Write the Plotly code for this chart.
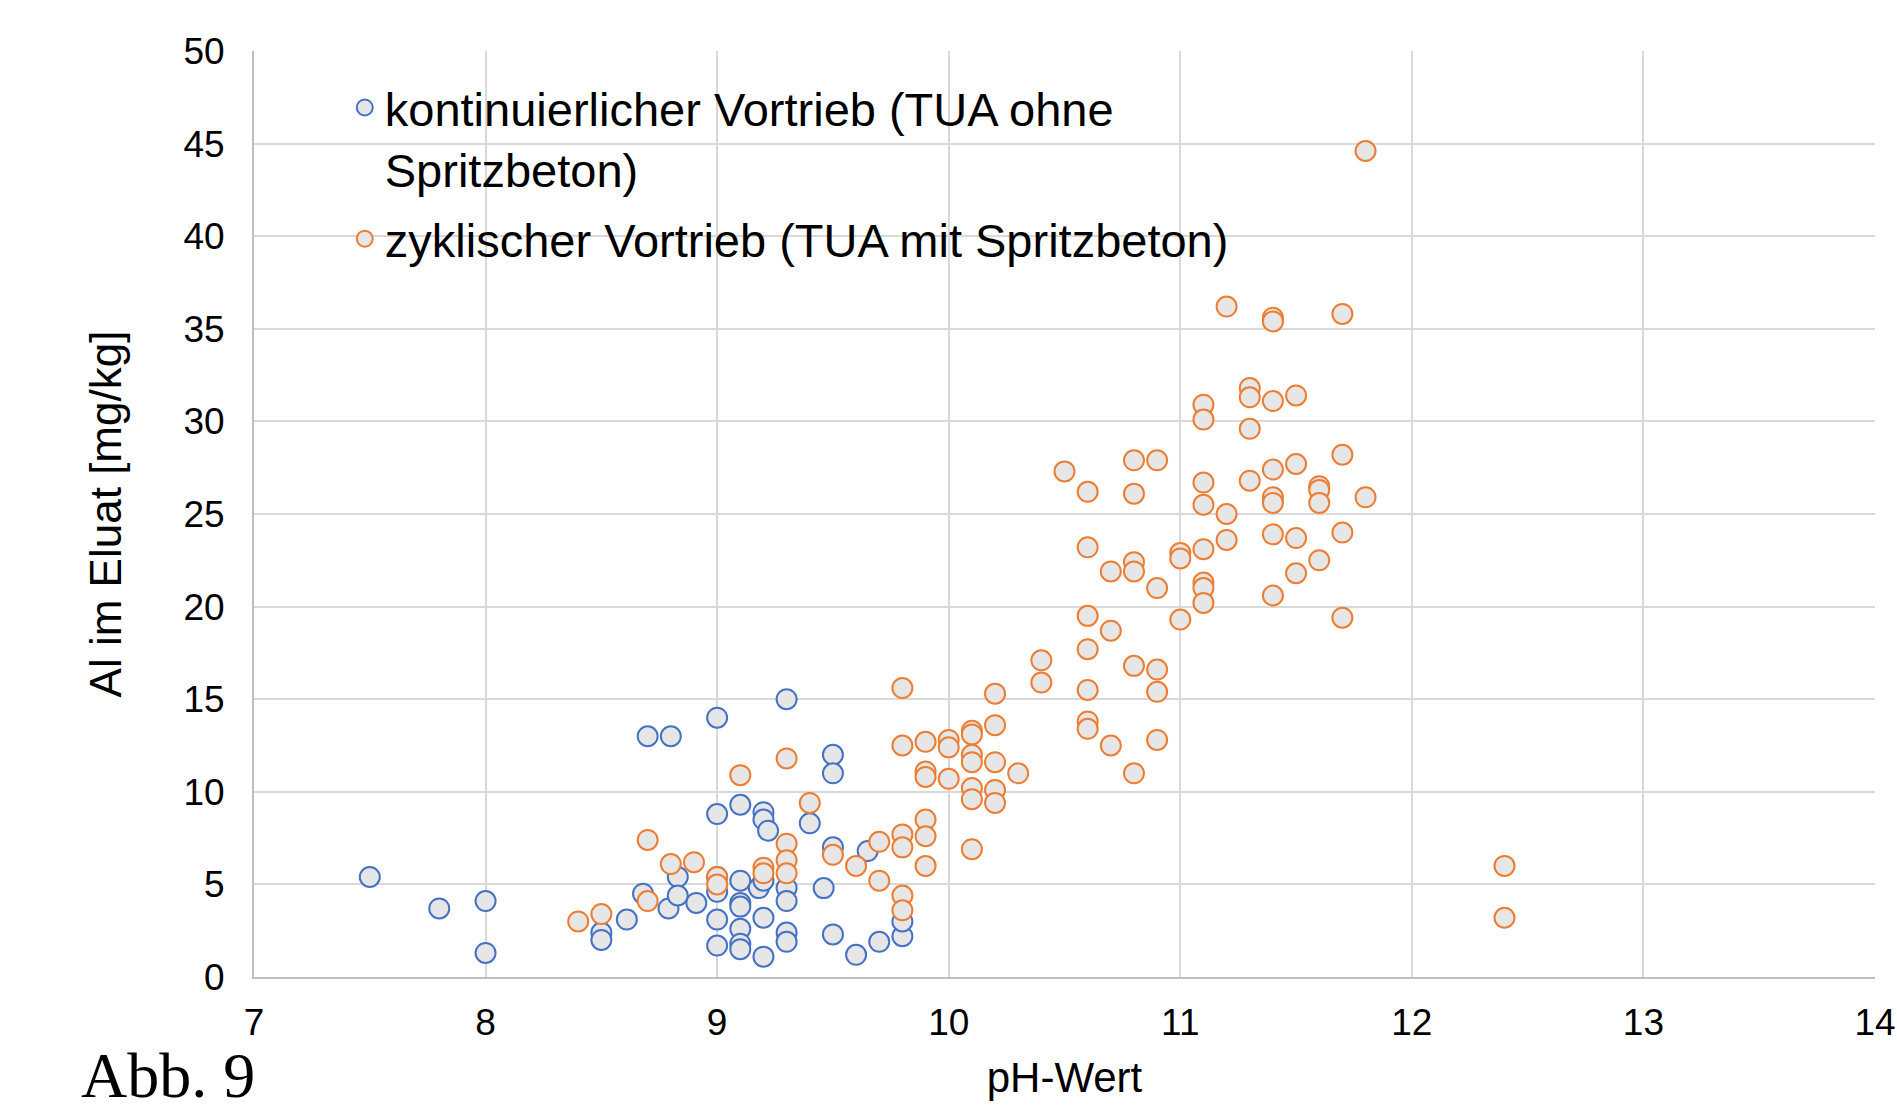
import plotly.graph_objects as go

# kontinuierlicher Vortrieb (TUA ohne Spritzbeton)
kont_ph = [7.5, 7.8, 8.0, 8.0, 8.5, 8.5, 8.61, 8.68, 8.7, 8.79, 8.8, 8.83, 8.83, 8.91,
           9.0, 9.0, 9.0, 9.0, 9.0, 9.0, 9.1, 9.1, 9.1, 9.1, 9.1, 9.1, 9.1, 9.18,
           9.2, 9.2, 9.2, 9.2, 9.2, 9.22, 9.3, 9.3, 9.3, 9.3, 9.3, 9.4, 9.46,
           9.5, 9.5, 9.5, 9.5, 9.6, 9.65, 9.7, 9.8, 9.8]
kont_al = [5.4, 3.7, 4.1, 1.3, 2.4, 2.0, 3.1, 4.5, 13.0, 3.7, 13.0, 5.4, 4.4, 4.0,
           14.0, 8.8, 5.4, 4.6, 3.1, 1.7, 9.3, 5.2, 4.0, 3.8, 2.6, 1.8, 1.5, 4.8,
           8.9, 8.5, 5.2, 3.2, 1.1, 7.9, 15.0, 4.8, 4.1, 2.4, 1.9, 8.3, 4.8,
           12.0, 11.0, 7.0, 2.3, 1.2, 6.8, 1.9, 2.2, 3.0]

# zyklischer Vortrieb (TUA mit Spritzbeton)
zykl_ph = [8.4, 8.5, 8.7, 8.7, 8.8, 8.9, 9.0, 9.0, 9.1, 9.2, 9.2, 9.3, 9.3, 9.3, 9.3,
           9.4, 9.5, 9.6, 9.7, 9.7, 9.8, 9.8, 9.8, 9.8, 9.8, 9.8,
           9.9, 9.9, 9.9, 9.9, 9.9, 9.9, 10.0, 10.0, 10.0,
           10.1, 10.1, 10.1, 10.1, 10.1, 10.1, 10.1, 10.2, 10.2, 10.2, 10.2, 10.2,
           10.3, 10.4, 10.4, 10.5, 10.6, 10.6, 10.6, 10.6, 10.6, 10.6, 10.6,
           10.7, 10.7, 10.7, 10.8, 10.8, 10.8, 10.8, 10.8, 10.8,
           10.9, 10.9, 10.9, 10.9, 10.9, 11.0, 11.0, 11.0,
           11.1, 11.1, 11.1, 11.1, 11.1, 11.1, 11.1, 11.1, 11.2, 11.2, 11.2,
           11.3, 11.3, 11.3, 11.3, 11.4, 11.4, 11.4, 11.4, 11.4, 11.4, 11.4, 11.4,
           11.5, 11.5, 11.5, 11.5, 11.6, 11.6, 11.6, 11.6,
           11.7, 11.7, 11.7, 11.7, 11.8, 11.8, 12.4, 12.4]
zykl_al = [3.0, 3.4, 7.4, 4.1, 6.1, 6.2, 5.4, 5.0, 10.9, 5.9, 5.6, 11.8, 7.2, 6.3, 5.6,
           9.4, 6.6, 6.0, 7.3, 5.2, 15.6, 12.5, 7.7, 7.0, 4.4, 3.6,
           12.7, 11.1, 10.8, 8.5, 7.6, 6.0, 12.8, 12.4, 10.7,
           13.3, 13.1, 12.0, 11.6, 10.2, 9.6, 6.9, 15.3, 13.6, 11.6, 10.1, 9.4,
           11.0, 17.1, 15.9, 27.3, 26.2, 23.2, 19.5, 17.7, 15.5, 13.8, 13.4,
           21.9, 18.7, 12.5, 27.9, 26.1, 22.4, 21.9, 16.8, 11.0,
           27.9, 21.0, 16.6, 15.4, 12.8, 22.9, 22.6, 19.3,
           30.9, 30.1, 26.7, 25.5, 23.1, 21.3, 21.0, 20.2, 36.2, 25.0, 23.6,
           31.8, 31.3, 29.6, 26.8, 35.6, 35.4, 31.1, 27.4, 25.9, 25.6, 23.9, 20.6,
           31.4, 27.7, 23.7, 21.8, 26.5, 26.3, 25.6, 22.5,
           35.8, 28.2, 24.0, 19.4, 44.6, 25.9, 6.0, 3.2]

FONT = "Liberation Sans, Arial, sans-serif"
FILL = "#E7E6E6"

fig = go.Figure()
fig.add_trace(
    go.Scatter(
        x=kont_ph,
        y=kont_al,
        mode="markers",
        name="kontinuierlicher Vortrieb (TUA ohne<br>Spritzbeton)",
        legendgroup="a",
        marker=dict(size=20, color=FILL, line=dict(color="#4472C4", width=2)),
    )
)
fig.add_trace(
    go.Scatter(
        x=zykl_ph,
        y=zykl_al,
        mode="markers",
        name="zyklischer Vortrieb (TUA mit Spritzbeton)",
        legendgroup="b",
        marker=dict(size=20, color=FILL, line=dict(color="#ED7D31", width=2)),
    )
)

axis_common = dict(
    automargin=False,
    showgrid=True,
    gridcolor="#D9D9D9",
    gridwidth=2,
    zeroline=False,
    showline=True,
    linecolor="#BFBFBF",
    linewidth=2,
    ticks="outside",
    tickcolor="rgba(0,0,0,0)",
    tickfont=dict(family=FONT, size=37, color="black"),
)

fig.update_layout(
    width=1897,
    height=1107,
    paper_bgcolor="white",
    plot_bgcolor="white",
    margin=dict(l=254, r=22, t=51, b=130),
    font=dict(family=FONT, color="black"),
    xaxis=dict(
        range=[7, 14],
        dtick=1,
        ticklen=12,
        title=dict(text="pH-Wert", font=dict(family=FONT, size=42), standoff=20),
        **axis_common,
    ),
    yaxis=dict(
        range=[0, 50],
        dtick=5,
        ticklen=20,
        title=dict(text="Al im Eluat [mg/kg]", font=dict(family=FONT, size=44), standoff=48),
        **axis_common,
    ),
    legend=dict(
        x=0.056,
        y=0.979,
        xanchor="left",
        yanchor="top",
        valign="top",
        bgcolor="rgba(0,0,0,0)",
        font=dict(family=FONT, size=47, color="black"),
        tracegroupgap=6,
    ),
    showlegend=True,
    annotations=[
        dict(
            text="Abb. 9",
            xref="paper",
            yref="paper",
            x=-0.108,
            y=-0.106,
            xanchor="left",
            yanchor="middle",
            showarrow=False,
            font=dict(family="Liberation Serif, Times New Roman, serif", size=64, color="black"),
        )
    ],
)

# no default body margin, so the figure fills the window exactly
fig.write_html(
    "out.html",
    config={"displayModeBar": False},
    post_script="document.body.style.margin='0';",
)
